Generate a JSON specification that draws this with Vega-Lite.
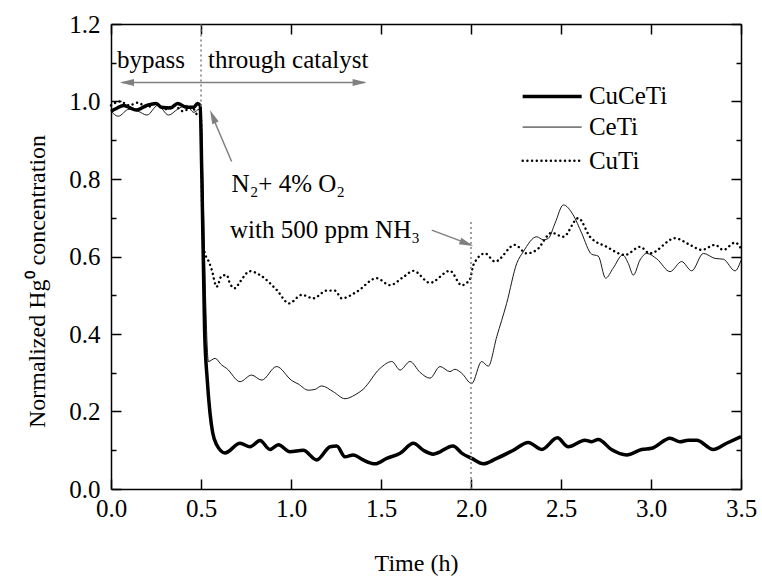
{
  "$schema": "https://vega.github.io/schema/vega-lite/v6.json",
  "width": 630,
  "height": 465,
  "autosize": "none",
  "padding": {"left": 111, "top": 24, "right": 21, "bottom": 90},
  "background": "white",
  "datasets": {
    "curves": [
      {"s":"CuCeTi","t":0.0,"v":0.975},{"s":"CuCeTi","t":0.03,"v":0.982},{"s":"CuCeTi","t":0.07,"v":0.99},{"s":"CuCeTi","t":0.1,"v":0.985},{"s":"CuCeTi","t":0.14,"v":0.978},{"s":"CuCeTi","t":0.2,"v":0.99},{"s":"CuCeTi","t":0.25,"v":0.995},{"s":"CuCeTi","t":0.28,"v":0.985},{"s":"CuCeTi","t":0.33,"v":0.983},{"s":"CuCeTi","t":0.37,"v":0.995},{"s":"CuCeTi","t":0.42,"v":0.985},{"s":"CuCeTi","t":0.46,"v":0.985},{"s":"CuCeTi","t":0.48,"v":0.995},{"s":"CuCeTi","t":0.495,"v":0.99},{"s":"CuCeTi","t":0.505,"v":0.8},{"s":"CuCeTi","t":0.52,"v":0.41},{"s":"CuCeTi","t":0.535,"v":0.28},{"s":"CuCeTi","t":0.55,"v":0.196},{"s":"CuCeTi","t":0.565,"v":0.145},{"s":"CuCeTi","t":0.587,"v":0.114},{"s":"CuCeTi","t":0.633,"v":0.093},{"s":"CuCeTi","t":0.717,"v":0.118},{"s":"CuCeTi","t":0.772,"v":0.109},{"s":"CuCeTi","t":0.828,"v":0.125},{"s":"CuCeTi","t":0.883,"v":0.102},{"s":"CuCeTi","t":0.93,"v":0.114},{"s":"CuCeTi","t":0.994,"v":0.096},{"s":"CuCeTi","t":1.068,"v":0.1},{"s":"CuCeTi","t":1.143,"v":0.075},{"s":"CuCeTi","t":1.217,"v":0.109},{"s":"CuCeTi","t":1.254,"v":0.111},{"s":"CuCeTi","t":1.3,"v":0.083},{"s":"CuCeTi","t":1.346,"v":0.088},{"s":"CuCeTi","t":1.4,"v":0.075},{"s":"CuCeTi","t":1.467,"v":0.065},{"s":"CuCeTi","t":1.532,"v":0.079},{"s":"CuCeTi","t":1.606,"v":0.092},{"s":"CuCeTi","t":1.68,"v":0.118},{"s":"CuCeTi","t":1.735,"v":0.1},{"s":"CuCeTi","t":1.79,"v":0.09},{"s":"CuCeTi","t":1.9,"v":0.111},{"s":"CuCeTi","t":1.95,"v":0.092},{"s":"CuCeTi","t":2.004,"v":0.079},{"s":"CuCeTi","t":2.068,"v":0.065},{"s":"CuCeTi","t":2.143,"v":0.079},{"s":"CuCeTi","t":2.235,"v":0.1},{"s":"CuCeTi","t":2.318,"v":0.12},{"s":"CuCeTi","t":2.393,"v":0.102},{"s":"CuCeTi","t":2.48,"v":0.132},{"s":"CuCeTi","t":2.54,"v":0.109},{"s":"CuCeTi","t":2.633,"v":0.126},{"s":"CuCeTi","t":2.67,"v":0.122},{"s":"CuCeTi","t":2.707,"v":0.128},{"s":"CuCeTi","t":2.78,"v":0.102},{"s":"CuCeTi","t":2.865,"v":0.088},{"s":"CuCeTi","t":2.948,"v":0.102},{"s":"CuCeTi","t":3.004,"v":0.105},{"s":"CuCeTi","t":3.106,"v":0.131},{"s":"CuCeTi","t":3.161,"v":0.122},{"s":"CuCeTi","t":3.207,"v":0.126},{"s":"CuCeTi","t":3.254,"v":0.126},{"s":"CuCeTi","t":3.346,"v":0.102},{"s":"CuCeTi","t":3.42,"v":0.118},{"s":"CuCeTi","t":3.5,"v":0.135},
      {"s":"CeTi","t":0.0,"v":0.975},{"s":"CeTi","t":0.04,"v":0.962},{"s":"CeTi","t":0.1,"v":0.98},{"s":"CeTi","t":0.15,"v":0.975},{"s":"CeTi","t":0.2,"v":0.965},{"s":"CeTi","t":0.26,"v":0.99},{"s":"CeTi","t":0.32,"v":0.965},{"s":"CeTi","t":0.37,"v":0.98},{"s":"CeTi","t":0.42,"v":0.99},{"s":"CeTi","t":0.46,"v":0.972},{"s":"CeTi","t":0.49,"v":0.98},{"s":"CeTi","t":0.5,"v":0.97},{"s":"CeTi","t":0.51,"v":0.8},{"s":"CeTi","t":0.525,"v":0.5},{"s":"CeTi","t":0.541,"v":0.329},{"s":"CeTi","t":0.578,"v":0.337},{"s":"CeTi","t":0.615,"v":0.32},{"s":"CeTi","t":0.643,"v":0.311},{"s":"CeTi","t":0.717,"v":0.277},{"s":"CeTi","t":0.781,"v":0.294},{"s":"CeTi","t":0.837,"v":0.281},{"s":"CeTi","t":0.92,"v":0.316},{"s":"CeTi","t":1.004,"v":0.28},{"s":"CeTi","t":1.04,"v":0.271},{"s":"CeTi","t":1.096,"v":0.255},{"s":"CeTi","t":1.133,"v":0.257},{"s":"CeTi","t":1.17,"v":0.266},{"s":"CeTi","t":1.235,"v":0.251},{"s":"CeTi","t":1.3,"v":0.233},{"s":"CeTi","t":1.356,"v":0.243},{"s":"CeTi","t":1.4,"v":0.257},{"s":"CeTi","t":1.494,"v":0.311},{"s":"CeTi","t":1.56,"v":0.329},{"s":"CeTi","t":1.606,"v":0.307},{"s":"CeTi","t":1.661,"v":0.329},{"s":"CeTi","t":1.717,"v":0.301},{"s":"CeTi","t":1.772,"v":0.286},{"s":"CeTi","t":1.828,"v":0.316},{"s":"CeTi","t":1.883,"v":0.303},{"s":"CeTi","t":1.91,"v":0.309},{"s":"CeTi","t":1.948,"v":0.299},{"s":"CeTi","t":2.004,"v":0.272},{"s":"CeTi","t":2.059,"v":0.329},{"s":"CeTi","t":2.096,"v":0.317},{"s":"CeTi","t":2.143,"v":0.393},{"s":"CeTi","t":2.198,"v":0.479},{"s":"CeTi","t":2.254,"v":0.582},{"s":"CeTi","t":2.29,"v":0.612},{"s":"CeTi","t":2.365,"v":0.651},{"s":"CeTi","t":2.402,"v":0.643},{"s":"CeTi","t":2.43,"v":0.647},{"s":"CeTi","t":2.467,"v":0.686},{"s":"CeTi","t":2.513,"v":0.733},{"s":"CeTi","t":2.568,"v":0.707},{"s":"CeTi","t":2.615,"v":0.66},{"s":"CeTi","t":2.67,"v":0.606},{"s":"CeTi","t":2.707,"v":0.601},{"s":"CeTi","t":2.748,"v":0.544},{"s":"CeTi","t":2.79,"v":0.57},{"s":"CeTi","t":2.843,"v":0.604},{"s":"CeTi","t":2.874,"v":0.582},{"s":"CeTi","t":2.902,"v":0.552},{"s":"CeTi","t":2.939,"v":0.591},{"s":"CeTi","t":2.976,"v":0.608},{"s":"CeTi","t":3.032,"v":0.594},{"s":"CeTi","t":3.106,"v":0.561},{"s":"CeTi","t":3.17,"v":0.587},{"s":"CeTi","t":3.226,"v":0.563},{"s":"CeTi","t":3.291,"v":0.608},{"s":"CeTi","t":3.356,"v":0.595},{"s":"CeTi","t":3.402,"v":0.593},{"s":"CeTi","t":3.467,"v":0.563},{"s":"CeTi","t":3.5,"v":0.59},
      {"s":"CuTi","t":0.0,"v":0.99},{"s":"CuTi","t":0.05,"v":1.0},{"s":"CuTi","t":0.1,"v":0.99},{"s":"CuTi","t":0.15,"v":0.997},{"s":"CuTi","t":0.2,"v":0.985},{"s":"CuTi","t":0.25,"v":0.995},{"s":"CuTi","t":0.3,"v":0.98},{"s":"CuTi","t":0.35,"v":0.99},{"s":"CuTi","t":0.4,"v":0.975},{"s":"CuTi","t":0.45,"v":0.985},{"s":"CuTi","t":0.48,"v":0.965},{"s":"CuTi","t":0.5,"v":0.96},{"s":"CuTi","t":0.505,"v":0.75},{"s":"CuTi","t":0.512,"v":0.63},{"s":"CuTi","t":0.522,"v":0.608},{"s":"CuTi","t":0.545,"v":0.585},{"s":"CuTi","t":0.56,"v":0.565},{"s":"CuTi","t":0.587,"v":0.522},{"s":"CuTi","t":0.615,"v":0.55},{"s":"CuTi","t":0.643,"v":0.552},{"s":"CuTi","t":0.661,"v":0.53},{"s":"CuTi","t":0.689,"v":0.518},{"s":"CuTi","t":0.717,"v":0.535},{"s":"CuTi","t":0.772,"v":0.562},{"s":"CuTi","t":0.828,"v":0.552},{"s":"CuTi","t":0.92,"v":0.514},{"s":"CuTi","t":0.99,"v":0.479},{"s":"CuTi","t":1.059,"v":0.501},{"s":"CuTi","t":1.124,"v":0.492},{"s":"CuTi","t":1.198,"v":0.512},{"s":"CuTi","t":1.244,"v":0.512},{"s":"CuTi","t":1.282,"v":0.492},{"s":"CuTi","t":1.365,"v":0.509},{"s":"CuTi","t":1.476,"v":0.544},{"s":"CuTi","t":1.55,"v":0.526},{"s":"CuTi","t":1.624,"v":0.547},{"s":"CuTi","t":1.68,"v":0.563},{"s":"CuTi","t":1.772,"v":0.532},{"s":"CuTi","t":1.883,"v":0.563},{"s":"CuTi","t":1.948,"v":0.526},{"s":"CuTi","t":1.994,"v":0.541},{"s":"CuTi","t":2.013,"v":0.578},{"s":"CuTi","t":2.078,"v":0.608},{"s":"CuTi","t":2.133,"v":0.587},{"s":"CuTi","t":2.244,"v":0.63},{"s":"CuTi","t":2.309,"v":0.608},{"s":"CuTi","t":2.365,"v":0.617},{"s":"CuTi","t":2.448,"v":0.661},{"s":"CuTi","t":2.513,"v":0.651},{"s":"CuTi","t":2.596,"v":0.699},{"s":"CuTi","t":2.661,"v":0.651},{"s":"CuTi","t":2.754,"v":0.625},{"s":"CuTi","t":2.856,"v":0.604},{"s":"CuTi","t":2.939,"v":0.625},{"s":"CuTi","t":2.994,"v":0.608},{"s":"CuTi","t":3.133,"v":0.647},{"s":"CuTi","t":3.217,"v":0.63},{"s":"CuTi","t":3.282,"v":0.617},{"s":"CuTi","t":3.356,"v":0.63},{"s":"CuTi","t":3.402,"v":0.617},{"s":"CuTi","t":3.467,"v":0.636},{"s":"CuTi","t":3.5,"v":0.621}
    ],
    "vrules": [{"x":0.5,"y":0.987,"y2":1.2},{"x":2.0,"y":0,"y2":0.69}],
    "arrows": [{"x":0.06,"y":1.049,"x2":1.41,"y2":1.049},{"x":0.67,"y":0.845,"x2":0.56,"y2":0.965},{"x":1.782,"y":0.668,"x2":2.0,"y2":0.63}],
    "heads": [{"x":0.05,"y":1.049,"a":270},{"x":1.42,"y":1.049,"a":90},{"x":0.55,"y":0.978,"a":337},{"x":2.012,"y":0.627,"a":111}],
    "labels": [{"x":0.033,"y":1.107,"label":"bypass"},{"x":0.539,"y":1.107,"label":"through catalyst"},{"x":0.67,"y":0.787,"label":"N₂+ 4%  O₂"},{"x":0.661,"y":0.668,"label":"with 500 ppm NH₃"}],
    "legendLines": [{"s":"CuCeTi","x":2.287,"x2":2.615,"y":1.013},{"s":"CeTi","x":2.287,"x2":2.615,"y":0.934},{"s":"CuTi","x":2.287,"x2":2.615,"y":0.847}],
    "legendText": [{"x":2.655,"y":1.013,"label":"CuCeTi"},{"x":2.655,"y":0.934,"label":"CeTi"},{"x":2.655,"y":0.847,"label":"CuTi"}]
  },
  "resolve": {"axis": {"x": "independent", "y": "independent"}},
  "layer": [
    {
      "data": {"name": "curves"},
      "encoding": {
        "x": {"field": "t", "type": "quantitative",
          "scale": {"domain": [0, 3.5], "nice": false, "zero": false},
          "axis": {"orient": "bottom", "values": [0,0.5,1,1.5,2,2.5,3,3.5], "format": ".1f", "tickSize": -10, "labelPadding": 17, "title": "Time (h)", "titleX": 305, "titleY": 62, "titleBaseline": "top"}},
        "y": {"field": "v", "type": "quantitative",
          "scale": {"domain": [0, 1.2], "nice": false, "zero": false},
          "axis": {"orient": "left", "values": [0,0.1,0.2,0.3,0.4,0.5,0.6,0.7,0.8,0.9,1.0,1.1,1.2], "labelExpr": "round(datum.value*10)%2==0 ? format(datum.value,'.1f') : ''",
            "tickSize": {"condition": {"test": "round(datum.value*10)%2==0", "value": -10}, "value": -5},
            "labelPadding": 21, "title": "Normalized Hg⁰ concentration", "titleX": -62, "titleY": 257}}
      },
      "layer": [
        {
          "transform": [{"filter": "datum.s == 'CuTi'"}],
          "mark": {"type": "line", "interpolate": "monotone", "color": "black", "strokeWidth": 2.4, "strokeCap": "round", "strokeDash": [0.1, 4.6]}
        },
        {
          "transform": [{"filter": "datum.s == 'CeTi'"}],
          "mark": {"type": "line", "interpolate": "monotone", "color": "black", "strokeWidth": 0.9}
        },
        {
          "transform": [{"filter": "datum.s == 'CuCeTi'"}],
          "mark": {"type": "line", "interpolate": "monotone", "color": "black", "strokeWidth": 3.5, "strokeJoin": "round"}
        }
      ]
    },
    {
      "encoding": {
        "x": {"field": "x", "type": "quantitative",
          "scale": {"domain": [0, 3.5], "nice": false, "zero": false},
          "axis": {"orient": "top", "values": [0,0.5,1,1.5,2,2.5,3,3.5], "labels": false, "tickSize": -10, "title": null}},
        "y": {"field": "y", "type": "quantitative",
          "scale": {"domain": [0, 1.2], "nice": false, "zero": false},
          "axis": {"orient": "right", "values": [0,0.1,0.2,0.3,0.4,0.5,0.6,0.7,0.8,0.9,1.0,1.1,1.2], "labels": false,
            "tickSize": {"condition": {"test": "round(datum.value*10)%2==0", "value": -10}, "value": -5}, "title": null}}
      },
      "layer": [
        {
          "data": {"name": "vrules"},
          "mark": {"type": "rule", "color": "#808080", "strokeWidth": 1.5, "strokeDash": [2, 3]},
          "encoding": {"y2": {"field": "y2"}}
        },
        {
          "data": {"name": "arrows"},
          "mark": {"type": "rule", "color": "#808080", "strokeWidth": 1.5},
          "encoding": {"x2": {"field": "x2"}, "y2": {"field": "y2"}}
        },
        {
          "data": {"name": "heads"},
          "mark": {"type": "point", "shape": "M0,0L0.5,2L-0.5,2Z", "filled": true, "color": "#808080", "size": 196, "opacity": 1, "strokeWidth": 0},
          "encoding": {"angle": {"field": "a", "type": "quantitative", "scale": null}}
        },
        {
          "data": {"name": "labels"},
          "mark": {"type": "text", "align": "left", "baseline": "middle", "fontSize": 25, "font": "Liberation Serif, Times New Roman, serif", "color": "black"},
          "encoding": {"text": {"field": "label"}}
        },
        {
          "data": {"name": "legendLines"},
          "transform": [{"filter": "datum.s == 'CuCeTi'"}],
          "mark": {"type": "rule", "color": "black", "strokeWidth": 3.5},
          "encoding": {"x2": {"field": "x2"}}
        },
        {
          "data": {"name": "legendLines"},
          "transform": [{"filter": "datum.s == 'CeTi'"}],
          "mark": {"type": "rule", "color": "black", "strokeWidth": 0.9},
          "encoding": {"x2": {"field": "x2"}}
        },
        {
          "data": {"name": "legendLines"},
          "transform": [{"filter": "datum.s == 'CuTi'"}],
          "mark": {"type": "rule", "color": "black", "strokeWidth": 2.4, "strokeCap": "round", "strokeDash": [0.1, 4.6]},
          "encoding": {"x2": {"field": "x2"}}
        },
        {
          "data": {"name": "legendText"},
          "mark": {"type": "text", "align": "left", "baseline": "middle", "fontSize": 25, "font": "Liberation Serif, Times New Roman, serif", "color": "black"},
          "encoding": {"text": {"field": "label"}}
        }
      ]
    }
  ],
  "config": {
    "font": "Liberation Serif, Times New Roman, serif",
    "view": {"stroke": null},
    "axis": {"grid": false, "labelFont": "Liberation Serif, Times New Roman, serif", "titleFont": "Liberation Serif, Times New Roman, serif", "labelColor": "black", "titleColor": "black", "tickColor": "black", "domainColor": "black", "domainWidth": 1.5, "tickWidth": 1.5, "labelFontSize": 25, "titleFontSize": 24, "titleFontWeight": "normal", "labelFlush": false, "labelOverlap": false}
  }
}
